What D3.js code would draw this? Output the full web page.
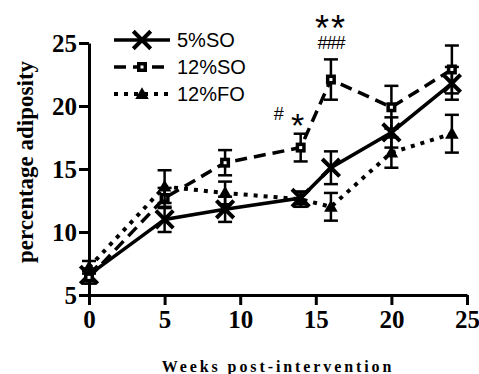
<!DOCTYPE html>
<html>
<head>
<meta charset="utf-8">
<script src="https://cdn.jsdelivr.net/npm/d3@7"></script>
<style>
  body { margin: 0; background: #fff; }
  svg { display: block; }
</style>
</head>
<body>
<div id="chart"></div>
<script>
// --- data ---
const weeks = [0, 5, 9, 14, 16, 20, 24];
const seriesNames = ["5%SO", "12%SO", "12%FO"];
const so5Mean  = [6.6, 11.0, 11.8, 12.7, 15.1, 17.9, 21.8];
const so5Err   = [0.5, 1.0, 1.0, 0.5, 1.3, 1.2, 1.3];
const so12Mean = [6.4, 12.7, 15.5, 16.7, 22.1, 19.9, 22.9];
const so12Err  = [0.5, 0.8, 1.0, 1.1, 1.6, 1.7, 1.9];
const fo12Mean = [7.2, 13.6, 13.1, 12.6, 12.0, 16.3, 17.8];
const fo12Err  = [0.5, 1.3, 0.9, 0.6, 1.1, 1.2, 1.5];
const xTicks = [0, 5, 10, 15, 20, 25];
const yTicks = [5, 10, 15, 20, 25];

const serifFont = "'Liberation Serif', 'Times New Roman', Times, serif";
const sansFont = "'Liberation Sans', Arial, sans-serif";

// plot sizes
const width = 479, height = 374;
const margin = { top: 43, right: 12, bottom: 79, left: 89 };

const svg = d3.select("#chart").append("svg")
  .attr("width", width)
  .attr("height", height);

const x = d3.scaleLinear().domain([0, 25]).range([margin.left, width - margin.right]);
const y = d3.scaleLinear().domain([5, 25]).range([height - margin.bottom, margin.top]);

// --- axes ---
const xAxis = svg.append("g")
  .attr("transform", `translate(0, ${y(5)})`)
  .call(d3.axisBottom(x).tickValues(xTicks).tickSize(10).tickPadding(5).tickSizeOuter(0));

const yAxis = svg.append("g")
  .attr("transform", `translate(${x(0)}, 0)`)
  .call(d3.axisLeft(y).tickValues(yTicks).tickSize(10).tickPadding(2).tickSizeOuter(0));

[xAxis, yAxis].forEach((ax) => {
  ax.attr("font-family", serifFont).attr("font-size", 25).attr("font-weight", "bold");
  ax.select(".domain").attr("stroke-width", 3);
  ax.selectAll(".tick line").attr("stroke-width", 3);
  ax.selectAll(".tick text")
    .style("font-family", serifFont)
    .style("font-weight", "bold")
    .style("font-size", "25px");
});

// axis labels
svg.append("text")
  .attr("transform", `translate(33, ${(y(5) + y(25)) / 2 - 7}) rotate(-90)`)
  .attr("text-anchor", "middle")
  .style("font-family", serifFont)
  .style("font-weight", "bold")
  .style("font-size", "23px")
  .text("percentage adiposity");

svg.append("text")
  .attr("x", 278)
  .attr("y", 372)
  .attr("text-anchor", "middle")
  .style("font-family", serifFont)
  .style("font-weight", "bold")
  .style("font-size", "16px")
  .style("letter-spacing", "2.9px")
  .text("Weeks post-intervention");

// --- series ---
const series = [
  { name: seriesNames[0], mean: so5Mean, err: so5Err, dash: null, width: 3.5, marker: "x" },
  { name: seriesNames[1], mean: so12Mean, err: so12Err, dash: "12,7", width: 3.5, marker: "square" },
  { name: seriesNames[2], mean: fo12Mean, err: fo12Err, dash: "4,6", width: 4, marker: "triangle" }
];

const line = d3.line()
  .x((d) => x(d.w))
  .y((d) => y(d.m));

function drawMarker(g, type, cx, cy) {
  if (type === "x") {
    g.append("path")
      .attr("d", d3.symbol(d3.symbolX, 200)())
      .attr("transform", `translate(${cx}, ${cy})`)
      .attr("fill", "none")
      .attr("stroke", "#000")
      .attr("stroke-width", 4);
  } else if (type === "square") {
    g.append("rect")
      .attr("x", cx - 5).attr("y", cy - 5)
      .attr("width", 10).attr("height", 10)
      .attr("fill", "#000");
    g.append("rect")
      .attr("x", cx - 1.5).attr("y", cy - 1.5)
      .attr("width", 3).attr("height", 3)
      .attr("fill", "#fff");
  } else {
    g.append("path")
      .attr("d", d3.symbol(d3.symbolTriangle, 80)())
      .attr("transform", `translate(${cx}, ${cy + 1})`)
      .attr("fill", "#000");
  }
}

series.forEach((s) => {
  const pts = weeks.map((w, i) => ({ w: w, m: s.mean[i], e: s.err[i] }));
  const g = svg.append("g").attr("class", "series");

  // error bars
  const eb = g.selectAll(".err").data(pts).enter().append("g").attr("class", "err");
  eb.append("line")
    .attr("x1", (d) => x(d.w)).attr("x2", (d) => x(d.w))
    .attr("y1", (d) => y(d.m - d.e)).attr("y2", (d) => y(d.m + d.e))
    .attr("stroke", "#000").attr("stroke-width", 2.5);
  [-1, 1].forEach((sgn) => {
    eb.append("line")
      .attr("x1", (d) => x(d.w) - 7).attr("x2", (d) => x(d.w) + 7)
      .attr("y1", (d) => y(d.m + sgn * d.e)).attr("y2", (d) => y(d.m + sgn * d.e))
      .attr("stroke", "#000").attr("stroke-width", 2.5);
  });

  g.append("path")
    .datum(pts)
    .attr("d", line)
    .attr("fill", "none")
    .attr("stroke", "#000")
    .attr("stroke-width", s.width)
    .attr("stroke-dasharray", s.dash);

  pts.forEach((d) => drawMarker(g, s.marker, x(d.w), y(d.m)));
});

// --- legend ---
const legendY = [40, 67, 94];
series.forEach((s, i) => {
  const lg = svg.append("g");
  lg.append("line")
    .attr("x1", 114).attr("x2", 170)
    .attr("y1", legendY[i]).attr("y2", legendY[i])
    .attr("stroke", "#000")
    .attr("stroke-width", s.width)
    .attr("stroke-dasharray", s.dash);
  drawMarker(lg, s.marker, 142, legendY[i]);
  lg.append("text")
    .attr("x", 177)
    .attr("y", legendY[i] + 7)
    .style("font-family", sansFont)
    .style("font-size", "20px")
    .text(s.name);
});

// --- significance annotations ---
const ann = svg.append("g")
  .style("font-family", sansFont)
  .attr("text-anchor", "middle");
ann.append("text").attr("x", x(14) - 22).attr("y", y(17.8) - 14)
  .style("font-size", "18px").text("#");
ann.append("text").attr("x", x(14) - 3).attr("y", y(17.8) + 3)
  .style("font-size", "34px").text("*");
ann.append("text").attr("x", x(16)).attr("y", 41)
  .style("font-size", "36px").style("letter-spacing", "2px").text("**");
ann.append("text").attr("x", x(16)).attr("y", 49)
  .style("font-size", "18px").style("letter-spacing", "-1px").text("###");
</script>
</body>
</html>
